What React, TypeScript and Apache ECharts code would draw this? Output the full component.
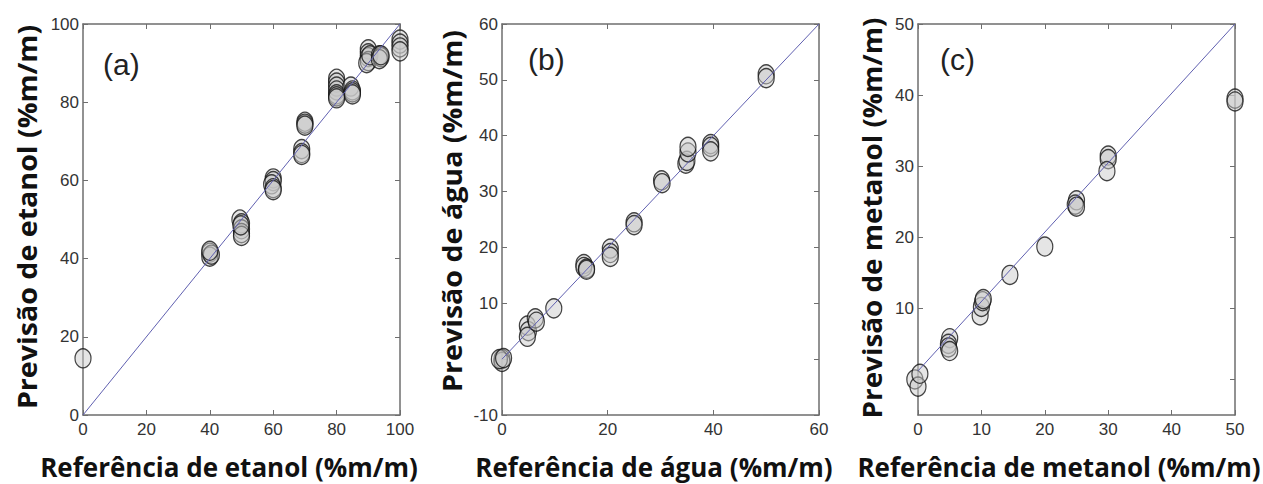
import React, { useEffect, useRef } from "react";
import * as echarts from "echarts";

// Panel (a): etanol
const refA = [0, 40, 40, 40.5, 40, 49.5, 50, 50, 50, 50, 49.8, 60, 60, 59.5, 60, 60, 69, 69, 69, 70, 70, 70, 80, 80, 80, 80, 80, 80, 80, 84.5, 85, 85, 85, 90, 90, 90, 90, 89.5, 90.5, 93.5, 94, 93.5, 94, 100, 100, 100, 100];
const predA = [14.5, 41.5, 40.5, 41, 42, 50, 49, 47.5, 46.5, 45.8, 48.5, 60.5, 59.8, 59, 58, 57.5, 68, 67, 66.5, 75, 74.5, 74, 86, 85, 84, 83, 82, 81.5, 81, 84, 83, 82.5, 82, 93.5, 92.5, 91.5, 90.5, 90, 92, 92, 91.5, 91, 92, 96, 95, 94, 93];
// Panel (b): água
const refB = [0, 0, -0.5, 0.3, 4.8, 5, 4.8, 6.3, 6.5, 9.8, 15.5, 15.5, 16, 16, 20.5, 20.5, 20.5, 25, 25, 30.2, 30.3, 34.8, 35, 35.2, 35.2, 39.5, 39.5, 39.5, 50, 50];
const predB = [0, -0.5, 0, 0.2, 6, 5, 4, 7.3, 6.7, 9.1, 17, 16.5, 16.2, 16, 19.8, 19, 18.3, 24.5, 24, 32, 31.5, 35, 35.5, 37, 38, 38.5, 38, 37.2, 51, 50.3];
// Panel (c): metanol
const refC = [-0.5, 0, 0.3, 5, 4.8, 4.8, 5, 9.8, 10, 10.2, 10.3, 14.5, 20, 25, 24.8, 25, 30, 30, 29.8, 50, 50];
const predC = [0, -1, 0.8, 5.8, 5, 4.5, 4, 9, 10.2, 11, 11.3, 14.7, 18.7, 25.2, 24.6, 24.3, 31.5, 31, 29.3, 39.5, 39.1];

// Reference (identity / fit) lines
const lineA = [[0, 0], [100, 100]];
const lineB = [[0, 0], [60, 60]];
const lineC = [[0, 1.2], [50, 50]];

const panelLetters = ["(a)", "(b)", "(c)"];
const xTitles = ["Referência de etanol (%m/m)", "Referência de água (%m/m)", "Referência de metanol (%m/m)"];
const yTitles = ["Previsão de etanol (%m/m)", "Previsão de água (%m/m)", "Previsão de metanol (%m/m)"];

const xRanges = [[0, 100, 20], [0, 60, 20], [0, 50, 10]];
const yRanges = [[0, 100, 20], [-10, 60, 10], [-5, 50, 10]];
const yTickValuesC = [0, 10, 20, 30, 40, 50];
const yLabelValuesC = [10, 20, 30, 40, 50];

const gridLefts = [83, 502, 918];
const GRID_TOP = 24;
const GRID_W = 317;
const GRID_H = 391;

const AXIS_COLOR = "#6e6e6e";
const LABEL_FONT = "'Liberation Sans', Arial, sans-serif";
const TITLE_FONT = "'Open Sans', 'Noto Sans', sans-serif";

export default function App() {
  const ref = useRef<HTMLDivElement>(null);
  useEffect(() => {
    if (!ref.current) return;
    const chart = echarts.init(ref.current, undefined, { renderer: "svg" });

    const grids = gridLefts.map((l) => ({ left: l, top: GRID_TOP, width: GRID_W, height: GRID_H }));
    const axisLine = { show: true, onZero: false, lineStyle: { color: AXIS_COLOR, width: 1.5 } };
    const tick = { show: true, inside: true, length: 5, lineStyle: { color: AXIS_COLOR, width: 1 } };
    const label = { color: "#333", fontSize: 17, fontFamily: LABEL_FONT };

    const xAxes: any[] = [];
    const yAxes: any[] = [];
    for (let i = 0; i < 3; i++) {
      const [xmin, xmax, xint] = xRanges[i];
      const [ymin, ymax, yint] = yRanges[i];
      xAxes.push({
        type: "value", gridIndex: i, position: "bottom", min: xmin, max: xmax, interval: xint,
        axisLine, axisTick: tick, splitLine: { show: false },
        axisLabel: { ...label, margin: 6 },
      });
      xAxes.push({
        type: "value", gridIndex: i, position: "top", min: xmin, max: xmax, interval: xint,
        axisLine, axisTick: tick, splitLine: { show: false }, axisLabel: { show: false },
      });
      const yBase: any = { type: "value", gridIndex: i, min: ymin, max: ymax, axisLine, splitLine: { show: false } };
      if (i === 2) {
        yAxes.push({
          ...yBase, position: "left",
          axisTick: { ...tick, customValues: yTickValuesC },
          axisLabel: { ...label, margin: 4, customValues: yLabelValuesC },
        });
        yAxes.push({
          ...yBase, position: "right",
          axisTick: { ...tick, customValues: yTickValuesC },
          axisLabel: { show: false },
        });
      } else {
        yAxes.push({
          ...yBase, position: "left", interval: yint, axisTick: tick,
          axisLabel: { ...label, margin: 4, formatter: (v: number) => (i === 1 && v === 0 ? "" : String(v)) },
        });
        yAxes.push({
          ...yBase, position: "right", interval: yint, axisTick: tick, axisLabel: { show: false },
        });
      }
    }

    const refs = [refA, refB, refC];
    const preds = [predA, predB, predC];
    const lines = [lineA, lineB, lineC];
    const series: any[] = [];
    for (let i = 0; i < 3; i++) {
      series.push({
        type: "line", xAxisIndex: 2 * i, yAxisIndex: 2 * i, data: lines[i], symbol: "none",
        lineStyle: { color: "#6060b0", width: 1 }, z: 3,
      });
      series.push({
        type: "scatter", xAxisIndex: 2 * i, yAxisIndex: 2 * i, clip: false,
        data: refs[i].map((x, k) => [x, preds[i][k]]),
        symbol: "circle", symbolSize: [16, 19],
        itemStyle: { color: "rgba(200,200,200,0.6)", borderColor: "#151515", borderWidth: 1.3 },
        z: 2,
      });
    }

    const graphic: any[] = [];
    const letterPos = [[103, 67], [528, 62], [940, 62]];
    const xTitlePos = [229, 654, 1059];
    const yTitlePos = [[27, 217], [452, 211], [872, 218]];
    const yTitleScale = [1.1, 1.1, 1.07];
    for (let i = 0; i < 3; i++) {
      graphic.push({
        type: "text", left: letterPos[i][0], top: letterPos[i][1] - 18,
        style: { text: panelLetters[i], fontSize: 30, fontFamily: LABEL_FONT, fill: "#222" },
      });
      graphic.push({
        type: "text", x: xTitlePos[i], y: 467,
        style: { text: xTitles[i], fontSize: 26, fontWeight: "bold", fontFamily: TITLE_FONT, fill: "#111", align: "center", verticalAlign: "middle" },
      });
      graphic.push({
        type: "text", x: yTitlePos[i][0], y: yTitlePos[i][1], rotation: Math.PI / 2, scaleX: yTitleScale[i],
        style: { text: yTitles[i], fontSize: 26, fontWeight: "bold", fontFamily: TITLE_FONT, fill: "#111", align: "center", verticalAlign: "middle" },
      });
    }

    chart.setOption({
      animation: false,
      backgroundColor: "#ffffff",
      grid: grids,
      xAxis: xAxes,
      yAxis: yAxes,
      series,
      graphic,
    });
    return () => chart.dispose();
  }, []);
  return <div ref={ref} style={{ position: "fixed", left: 0, top: 0, width: 1263, height: 484 }} />;
}
